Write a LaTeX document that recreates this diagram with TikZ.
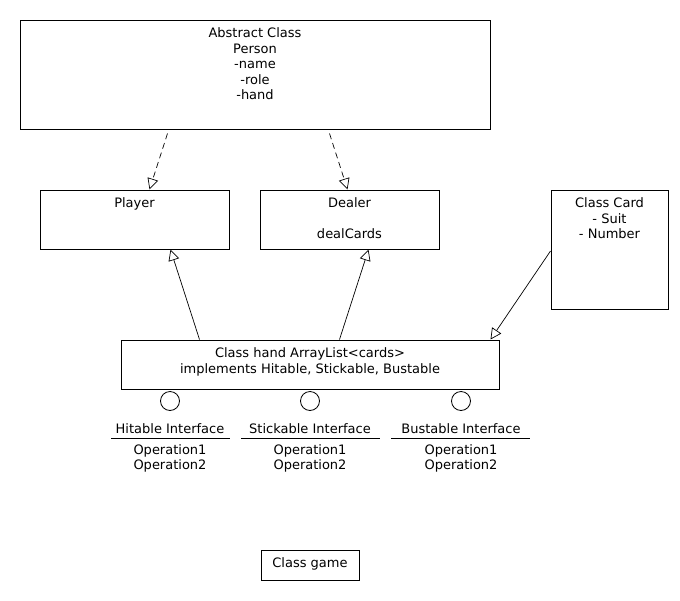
\documentclass[tikz,border=0pt]{standalone}
\usepackage{fontspec}
\setmainfont{DejaVu Sans}
\usetikzlibrary{arrows.meta,calc}
\begin{document}
\begin{tikzpicture}[x=1pt,y=-1pt,
 box/.style={draw,line width=1pt,inner sep=0,rectangle},
 txt/.style={inner sep=0,align=center,font=\fontsize{13}{15.5}\selectfont},
 gen/.style={-{Triangle[open,length=11pt,width=11pt]},line width=0.7pt},
 real/.style={gen,dash pattern=on 6pt off 4pt},
 iface/.style={draw,circle,line width=0.8pt,minimum size=19pt,inner sep=0},
 sep/.style={line width=0.8pt}]
\useasboundingbox[fill=white] (0,0) rectangle (680,600);
% boxes
\node[box,minimum width=470pt,minimum height=109pt] (person) at (255,74.5) {};
\node[txt,anchor=north] (persontxt) at (255,27.8) {Abstract Class\\Person\\-name\\-role\\-hand};
\node[box,minimum width=189pt,minimum height=59pt] (player) at (134.5,219.5) {};
\node[txt,anchor=base] (playertxt) at (134.5,207.7) {Player};
\node[box,minimum width=179pt,minimum height=59pt] (dealer) at (349.5,219.5) {};
\node[txt,anchor=north] (dealertxt) at (349.5,197.8) {Dealer\\[15.5pt]dealCards};
\node[box,minimum width=117pt,minimum height=119pt] (card) at (609.5,249.5) {};
\node[txt,anchor=north] (cardtxt) at (609.5,197.8) {Class Card\\- Suit\\- Number};
\node[box,minimum width=378pt,minimum height=49pt] (hand) at (310,364.5) {};
\node[txt,anchor=north,font=\fontsize{13}{16}\selectfont] (handtxt) at (310,347.8) {Class hand ArrayList<cards>\\implements Hitable, Stickable, Bustable};
\node[box,minimum width=98pt,minimum height=30pt] (game) at (310,565) {};
\node[txt,anchor=base] (gametxt) at (310,567.7) {Class game};
% connectors
\draw[real] ($(person.south west)+(148,4)$) -- ($(player.north west)+(110,0)$);
\draw[real] ($(person.south west)+(310,4)$) -- ($(dealer.north west)+(88,0)$);
\draw[gen] ($(hand.north west)+(79,0)$) -- ($(player.south west)+(131,0)$);
\draw[gen] ($(hand.north west)+(219,0)$) -- ($(dealer.south west)+(109,0)$);
\draw[gen] ($(card.west)+(0,1.5)$) -- ($(hand.north west)+(370,0)$);
% interfaces
\node[iface] (hitc) at (170,401) {};
\node[txt,anchor=base] (hitn) at (170,433.7) {Hitable Interface};
\coordinate (hitl) at (111,438); \coordinate (hitr) at (230,438);
\draw[sep] (hitl) -- (hitr);
\node[txt,anchor=north] (hitops) at (170,444) {Operation1\\Operation2};
\node[iface] (stic) at (310,401) {};
\node[txt,anchor=base] (stin) at (310,433.7) {Stickable Interface};
\coordinate (stil) at (241,438); \coordinate (stir) at (380,438);
\draw[sep] (stil) -- (stir);
\node[txt,anchor=north] (stiops) at (310,444) {Operation1\\Operation2};
\node[iface] (busc) at (461,401) {};
\node[txt,anchor=base] (busn) at (461,433.7) {Bustable Interface};
\coordinate (busl) at (391,438); \coordinate (busr) at (530,438);
\draw[sep] (busl) -- (busr);
\node[txt,anchor=north] (busops) at (461,444) {Operation1\\Operation2};
\end{tikzpicture}
\end{document}
